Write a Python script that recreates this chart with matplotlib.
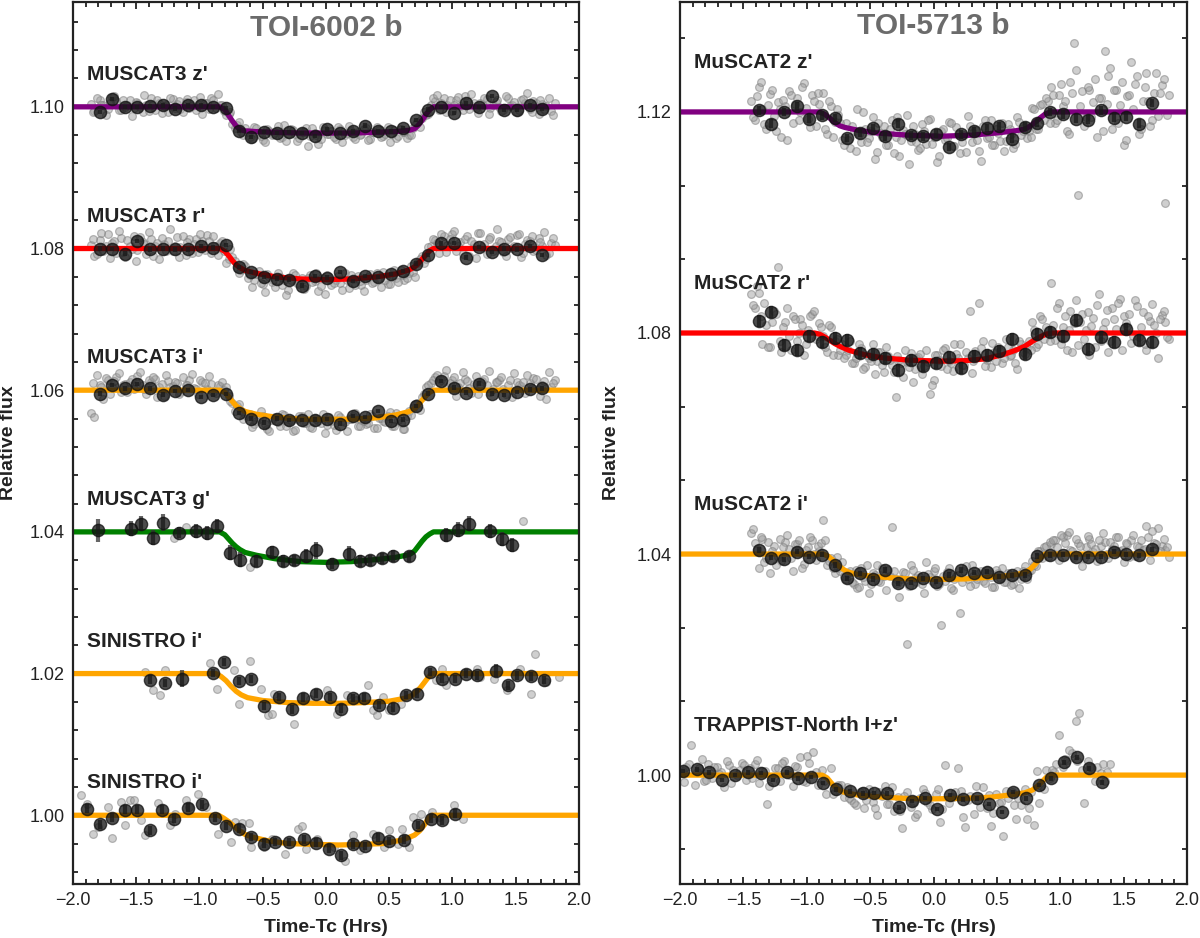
import numpy as np
import matplotlib
matplotlib.use("Agg")
import matplotlib.pyplot as plt
from matplotlib.ticker import MultipleLocator, AutoMinorLocator, FormatStrFormatter

plt.rcParams['font.family'] = ['Liberation Sans', 'DejaVu Sans']

# ======================= DATA =======================
# ---------- Left panel: TOI-6002 b ----------
left_title = "TOI-6002 b"
left_labels = ["MUSCAT3 z'", "MUSCAT3 r'", "MUSCAT3 i'", "MUSCAT3 g'", "SINISTRO i'", "SINISTRO i'"]
left_base = [1.10, 1.08, 1.06, 1.04, 1.02, 1.00]

# MuSCAT3 unbinned times (shared by z', r', i') [hours], two interleaved groups
m3_gray_t = [-1.86, -1.83, -1.79, -1.76, -1.72, -1.69, -1.66, -1.62, -1.59, -1.55,
             -1.52, -1.49, -1.45, -1.42, -1.38, -1.35, -1.32, -1.28, -1.25, -1.21,
             -1.18, -1.15, -1.11, -1.08, -1.04, -1.01, -0.98, -0.94, -0.91, -0.87,
             -0.84, -0.81, -0.77, -0.74, -0.70, -0.67, -0.64,
             -0.60, -0.57, -0.53, -0.50, -0.47, -0.43, -0.40, -0.36, -0.33, -0.30,
             -0.26, -0.23, -0.19, -0.16, -0.13, -0.09, -0.06, -0.02, 0.01, 0.04,
             0.08, 0.11, 0.15, 0.18, 0.21, 0.25, 0.28, 0.32, 0.35, 0.38,
             0.42, 0.45, 0.49, 0.52, 0.55, 0.59, 0.62, 0.66,
             0.69, 0.72, 0.76, 0.79, 0.83,
             0.86, 0.89, 0.93, 0.96, 1.00, 1.03, 1.06, 1.10, 1.13, 1.17,
             1.20, 1.23, 1.27, 1.30, 1.34, 1.37, 1.40, 1.44, 1.47, 1.51,
             1.54, 1.57, 1.61, 1.64, 1.68, 1.71, 1.74, 1.78, 1.81]
m3_gray_t2 = [-1.845, -1.81, -1.775, -1.74, -1.705, -1.675, -1.64, -1.605, -1.57, -1.535,
              -1.505, -1.47, -1.435, -1.40, -1.365, -1.335, -1.30, -1.265, -1.23, -1.195,
              -1.165, -1.13, -1.095, -1.06, -1.025, -0.995, -0.96, -0.925, -0.89, -0.855,
              -0.825, -0.79, -0.755, -0.72, -0.685, -0.655,
              -0.62, -0.585, -0.55, -0.515, -0.485, -0.45, -0.415, -0.38, -0.345, -0.315,
              -0.28, -0.245, -0.21, -0.175, -0.145, -0.11, -0.075, -0.04, -0.005, 0.025,
              0.06, 0.095, 0.13, 0.165, 0.195, 0.23, 0.265, 0.30, 0.335, 0.365,
              0.40, 0.435, 0.47, 0.505, 0.535, 0.57, 0.605, 0.64,
              0.675, 0.705, 0.74, 0.775, 0.81, 0.845,
              0.875, 0.91, 0.945, 0.98, 1.015, 1.045, 1.08, 1.115, 1.15, 1.185,
              1.215, 1.25, 1.285, 1.32, 1.355, 1.385, 1.42, 1.455, 1.49, 1.525,
              1.555, 1.59, 1.625, 1.66, 1.695, 1.725, 1.76, 1.795]
# unbinned flux deviations from each baseline, in units of 1e-4
m3z_gray_d = [4, -6, 10, 2, -3, 14, 8, -5, 0, 9, -2, 6, -8, 3, 12, -4, 5, 1, -7, 11,
              4, -3, 7, -1, 9, 2, -10, 5, 13, -2, 3,
              -6, -10, -24, -25, -36, -30,
              -42, -28, -38, -47, -31, -40, -35, -44, -26, -39, -33, -48, -36, -30, -41,
              -37, -52, -29, -38, -34, -45, -32, -40, -27, -43, -36, -39, -30, -46, -35,
              -33, -41, -28, -38, -44, -31, -36, -40,
              -30, -22, -16, -12, 2,
              8, -4, 12, 3, -6, 10, 1, 15, -3, 6, -9, 4, 11, -2, 7, 0, -5, 13, 2, -7,
              9, 5, -3, 8, -10, 4, 1, -6, 6]
m3z_gray_d2 = [-8, 12, 3, -11, 6, 15, -4, 9, 2, -13, 7, 0, 16, -6, 4, 10, -9, 3, 13, -2,
               8, -7, 11, 1, -5, 14, 6, -3, 9, 18,
               2, -12, -8, -30, -22, -40,
               -36, -45, -30, -41, -50, -34, -38, -27, -43, -48, -32, -39, -44, -35, -55,
               -30, -40, -46, -33, -38, -42, -29, -49, -37, -34, -45, -40, -31, -47, -36,
               -28, -43, -39, -50, -33, -41, -36, -44,
               -40, -25, -28, -8, -10, 12,
               16, 5, -8, 10, 2, 14, -5, 8, 18, -2, 6, 12, -10, 3, 9, -6, 15, 1, 7, -4,
               11, 20, -8, 5, 10, -3, 13, -12]
m3r_gray_d = [5, -10, 12, -3, 20, 8, -6, 15, -12, 3, 18, -2, 9, -8, 14, 4, -15, 7, 11, -4,
              16, 2, -9, 13, 6, -5, 10, 19, -7, 3, 8,
              -4, -15, -12, -28, -30, -25,
              -38, -45, -32, -50, -36, -47, -55, -40, -44, -58, -35, -49, -42, -53, -38,
              -46, -60, -41, -37, -52, -44, -48, -34, -56, -43, -39, -51, -45, -36, -47,
              -42, -33, -50, -38, -41, -30, -44, -35,
              -33, -20, -10, -15, 4,
              12, -6, 18, 5, 20, -3, 9, 14, -10, 7, 22, 2, -8, 16, 4, 11, -5, 13, 1, 19,
              -12, 6, 10, -4, 15, 3, -9, 8, 5]
m3r_gray_d2 = [14, -8, 22, 3, -14, 10, 25, -5, 12, 0, -18, 16, 6, 24, -10, 8, 15, -3, 28, 4,
               -12, 18, 9, -6, 13, 21, -2, 11, 17, -9,
               10, -20, 0, -18, -35, -22,
               -42, -55, -36, -48, -62, -40, -45, -35, -52, -66, -44, -38, -50, -57, -41,
               -47, -34, -53, -64, -43, -49, -39, -58, -45, -37, -52, -46, -60, -40, -48,
               -35, -55, -44, -50, -31, -47, -38, -42,
               -25, -40, -15, -20, 2, 14,
               8, 20, -5, 14, 25, 3, -8, 17, 10, -14, 22, 6, 13, -3, 27, 9, -11, 16, 4, 21,
               -7, 12, 18, -2, 9, 24, -6, 15]
m3i_gray_d = [-32, -38, 8, -12, 14, 5, 18, -3, 9, 12, 2, 20, 7, -5, 11, 16, 4, -8, 13, 6,
              10, -2, 8, 15, 3, -6, 12, 1, 9, -4, 6,
              0, -8, -18, -22, -30, -35,
              -33, -48, -40, -36, -55, -42, -38, -50, -35, -45, -58, -41, -37, -47, -52,
              -39, -44, -34, -49, -43, -56, -38, -45, -40, -36, -51, -42, -48, -33, -54,
              -39, -44, -37, -50, -32, -46, -55, -30,
              -25, -18, -10, 4, 10,
              18, 12, 20, 5, 14, -8, 10, 16, 3, 9, -6, 13, 7, -3, 11, 15, 2, 8, -10, 12,
              6, -4, 10, 17, 1, 8, -12, 5, 14]
m3i_gray_d2 = [10, 22, 5, 17, -6, 13, 24, 8, -3, 16, 11, 25, 2, 14, 19, -9, 9, 21, 4, 12,
               -5, 18, 7, 23, 1, 15, 10, 20, -2, 8,
               12, 4, -15, -30, -20, -40,
               -36, -52, -44, -30, -48, -58, -39, -45, -34, -50, -42, -56, -37, -47, -33,
               -53, -41, -46, -60, -38, -49, -35, -44, -57, -40, -32, -51, -43, -47, -36,
               -54, -39, -45, -31, -50, -42, -55, -37,
               -35, -20, -28, -5, 8, 15,
               22, 15, 28, 10, 18, 5, 25, 13, -4, 20, 9, 16, 27, 2, 12, 19, -6, 14, 24, 7,
               11, 21, 3, 16, -8, 13, 26, 10]

# MuSCAT3 binned points (shared bin times for z', r', i')
m3_bin_t = [-1.79, -1.69, -1.59, -1.49, -1.39, -1.29, -1.19, -1.09, -0.99, -0.89,
            -0.79, -0.69, -0.59, -0.49, -0.39, -0.29, -0.19, -0.09, 0.01, 0.11,
            0.21, 0.31, 0.41, 0.51, 0.61, 0.71, 0.81, 0.91, 1.01, 1.11,
            1.21, 1.31, 1.41, 1.51, 1.61, 1.71]
m3z_bin_f = [1.09925, 1.10113, 1.1000, 1.1000, 1.1001, 1.1002, 1.09976, 1.1002, 1.1002, 1.1000,
             1.0998, 1.09656, 1.09576, 1.09642, 1.09633, 1.09642, 1.09633, 1.09586, 1.0968, 1.09633,
             1.09652, 1.09736, 1.09652, 1.09652, 1.09703, 1.09812, 1.09962, 1.1000, 1.09915, 1.10047,
             1.1000, 1.1015, 1.09953, 1.09953, 1.1002, 1.09972]
m3r_bin_f = [1.0800, 1.0799, 1.07929, 1.08108, 1.07986, 1.0800, 1.07986, 1.07986, 1.08033, 1.08014,
             1.08047, 1.07741, 1.0767, 1.0760, 1.07576, 1.07562, 1.07477, 1.07609, 1.0759, 1.0767,
             1.07539, 1.07609, 1.0760, 1.07637, 1.07685, 1.07788, 1.07906, 1.08071, 1.0808, 1.07873,
             1.08024, 1.07953, 1.0800, 1.07986, 1.08033, 1.07906]
m3i_bin_f = [1.05953, 1.06071, 1.06024, 1.06085, 1.06024, 1.05939, 1.05991, 1.0600, 1.05906, 1.05929,
             1.05944, 1.0568, 1.0560, 1.05543, 1.0560, 1.05576, 1.05576, 1.05586, 1.0559, 1.05529,
             1.05637, 1.05623, 1.05708, 1.05567, 1.05586, 1.05774, 1.05953, 1.06127, 1.06038, 1.05967,
             1.06094, 1.05953, 1.05929, 1.05976, 1.0601, 1.06024]
m3_bin_e = 0.0003

# MuSCAT3 g'
m3g_gray_t = [-1.20, -1.11, -0.60, 1.56]
m3g_gray_f = [1.0392, 1.0407, 1.0351, 1.0415]
m3g_bin_t = [-1.80, -1.54, -1.46, -1.37, -1.29, -1.16, -1.03, -0.94, -0.86, -0.76,
             -0.68, -0.55, -0.43, -0.34, -0.25, -0.16, -0.08, 0.05, 0.18, 0.27,
             0.35, 0.44, 0.53, 0.66, 0.95, 1.04, 1.13, 1.30, 1.39, 1.47]
m3g_bin_f = [1.04024, 1.04047, 1.04118, 1.0392, 1.04127, 1.0399, 1.04014, 1.0399, 1.04085, 1.03708,
             1.03609, 1.0359, 1.03718, 1.0359, 1.0360, 1.03661, 1.03741, 1.03553, 1.03694, 1.0359,
             1.0360, 1.03628, 1.03661, 1.03656, 1.03953, 1.04033, 1.04118, 1.0401, 1.03901, 1.03812]
m3g_bin_e = [0.0016, 0.0010, 0.0010, 0.0010, 0.0012, 0.0008, 0.0010, 0.0010, 0.0010, 0.0010,
             0.0010, 0.0008, 0.0008, 0.0008, 0.0008, 0.0010, 0.0012, 0.0008, 0.0010, 0.0008,
             0.0008, 0.0008, 0.0008, 0.0008, 0.0010, 0.0010, 0.0010, 0.0010, 0.0010, 0.0010]

# SINISTRO #1 (upper)
s1_gray_t = [-1.43, -1.37, -1.31, -1.27, -0.92, -0.86, -0.73, -0.69, -0.60, -0.51,
             -0.46, -0.43, -0.41, -0.25, -0.13, 0.01, 0.09, 0.17, 0.24, 0.33,
             0.37, 0.40, 0.45, 0.50, 0.59, 0.87, 0.92, 0.95, 1.19, 1.22,
             1.33, 1.43, 1.53, 1.62, 1.65, 1.74, 1.84]
s1_gray_f = [1.02024, 1.01765, 1.01694, 1.02056, 1.0215, 1.01788, 1.02047, 1.01576, 1.02179, 1.01788,
             1.01411, 1.01435, 1.01718, 1.01284, 1.01647, 1.01765, 1.01435, 1.01694, 1.01623, 1.01835,
             1.01482, 1.01411, 1.0167, 1.01482, 1.01576, 1.01906, 1.02071, 1.01835, 1.02071, 1.01953,
             1.01929, 1.01765, 1.02071, 1.01718, 1.02282, 1.01882, 1.01953]
s1_bin_t = [-1.39, -1.27, -1.14, -0.89, -0.81, -0.69, -0.59, -0.49, -0.37, -0.27,
            -0.18, -0.08, 0.03, 0.12, 0.21, 0.30, 0.42, 0.53, 0.63, 0.72,
            0.82, 0.92, 1.02, 1.11, 1.19, 1.34, 1.44, 1.51, 1.62, 1.72]
s1_bin_f = [1.01915, 1.01868, 1.01929, 1.02009, 1.02165, 1.01896, 1.0192, 1.01539, 1.0167, 1.01496,
            1.01661, 1.01718, 1.0167, 1.01506, 1.01656, 1.01661, 1.01553, 1.0152, 1.01694, 1.01718,
            1.02024, 1.01929, 1.0192, 1.0200, 1.01976, 1.02038, 1.01835, 1.01976, 1.01962, 1.01906]
s1_bin_e = [0.0006, 0.0006, 0.0012, 0.0006, 0.0006, 0.0006, 0.0006, 0.0006, 0.0006, 0.0006,
            0.0006, 0.0006, 0.0006, 0.0006, 0.0006, 0.0006, 0.0006, 0.0006, 0.0006, 0.0006,
            0.0006, 0.0006, 0.0006, 0.0006, 0.0006, 0.0009, 0.0006, 0.0006, 0.0006, 0.0006]

# SINISTRO #2 (lower)
s2_gray_t = [-1.94, -1.89, -1.84, -1.80, -1.72, -1.69, -1.62, -1.59, -1.55, -1.52,
             -1.46, -1.43, -1.33, -1.23, -1.19, -1.11, -1.08, -1.01, -0.95, -0.85,
             -0.75, -0.72, -0.66, -0.61, -0.59, -0.49, -0.43, -0.32, -0.22, -0.19,
             -0.16, -0.07, 0.06, 0.15, 0.21, 0.27, 0.37, 0.46, 0.50, 0.57,
             0.60, 0.66, 0.69, 0.75, 0.84, 0.89, 1.01, 1.08]
s2_gray_f = [1.00282, 1.00165, 0.99741, 0.99835, 1.00118, 0.99685, 1.00188, 0.99859, 1.00212, 1.00212,
             0.99929, 0.99718, 1.00174, 0.99859, 1.00024, 1.00212, 1.00118, 1.00297, 1.00118, 0.99732,
             0.99623, 0.99906, 0.99892, 0.99892, 0.99553, 0.99553, 0.9967, 0.99459, 0.99812, 0.99845,
             0.99529, 0.9967, 0.99553, 0.99355, 0.99718, 0.99506, 0.99741, 0.99553, 0.99788, 0.9960,
             0.99812, 0.99553, 0.99976, 1.00024, 1.00047, 0.99976, 1.00141, 0.99953]
s2_bin_t = [-1.89, -1.79, -1.69, -1.59, -1.49, -1.39, -1.30, -1.20, -1.09, -0.98,
            -0.88, -0.79, -0.69, -0.59, -0.49, -0.40, -0.29, -0.17, -0.08, 0.02,
            0.12, 0.21, 0.31, 0.41, 0.50, 0.62, 0.73, 0.83, 0.92, 1.02]
s2_bin_f = [1.00094, 0.99873, 0.99967, 1.0008, 1.0008, 0.99788, 1.0008, 0.99953, 1.00108, 1.00155,
            0.99962, 0.99845, 0.99812, 0.99694, 0.9960, 0.99623, 0.99623, 0.99661, 0.99614, 0.99529,
            0.99435, 0.9959, 0.99567, 0.99685, 0.99637, 0.99656, 0.99859, 0.99953, 0.99929, 1.00024]
s2_bin_e = 0.0006

# Left-panel transit models (vertices)
m3_mod_t = [-2.0, -0.84, -0.80, -0.77, -0.74, -0.71, -0.68, -0.64, -0.55, -0.40, -0.20, 0.00,
            0.20, 0.40, 0.55, 0.66, 0.70, 0.73, 0.76, 0.79, 0.82, 0.85, 2.0]
m3z_mod_f = [1.1000, 1.1000, 1.0996, 1.0988, 1.0980, 1.0973, 1.0968, 1.0966, 1.0965, 1.0964, 1.0963, 1.0963,
             1.0963, 1.0964, 1.0965, 1.0967, 1.0969, 1.0974, 1.0981, 1.0989, 1.0996, 1.1000, 1.1000]
m3r_mod_f = [1.0800, 1.0800, 1.0796, 1.0790, 1.0783, 1.0777, 1.0773, 1.0769, 1.0765, 1.0760, 1.0757, 1.0756,
             1.0757, 1.0760, 1.0764, 1.0770, 1.0774, 1.0779, 1.0785, 1.0791, 1.0797, 1.0800, 1.0800]
m3i_mod_f = [1.0600, 1.0600, 1.0597, 1.0591, 1.0584, 1.0578, 1.0574, 1.0570, 1.0566, 1.0562, 1.0559, 1.0559,
             1.0559, 1.0561, 1.0565, 1.0570, 1.0574, 1.0579, 1.0586, 1.0592, 1.0597, 1.0600, 1.0600]
m3g_mod_f = [1.0400, 1.0400, 1.0396, 1.0390, 1.0384, 1.0379, 1.0375, 1.0371, 1.0367, 1.0362, 1.0358, 1.0357,
             1.0358, 1.0361, 1.0364, 1.0368, 1.0373, 1.0380, 1.0387, 1.0393, 1.0397, 1.0400, 1.0400]
s1_mod_t = [-2.0, -0.87, -0.83, -0.79, -0.75, -0.71, -0.67, -0.62, -0.50, -0.30, -0.10, 0.10,
            0.30, 0.50, 0.62, 0.68, 0.72, 0.75, 0.78, 0.81, 0.84, 2.0]
s1_mod_f = [1.0200, 1.0200, 1.0196, 1.0190, 1.0182, 1.0175, 1.0170, 1.0166, 1.0162, 1.0159, 1.0158, 1.0158,
            1.0159, 1.0161, 1.0165, 1.0169, 1.0175, 1.0181, 1.0188, 1.0195, 1.0200, 1.0200]
s2_mod_t = [-2.0, -0.85, -0.81, -0.77, -0.73, -0.69, -0.64, -0.58, -0.46, -0.30, -0.10, 0.10,
            0.30, 0.45, 0.60, 0.66, 0.70, 0.74, 0.78, 0.81, 0.84, 2.0]
s2_mod_f = [1.0000, 1.0000, 0.9996, 0.9991, 0.9985, 0.9979, 0.9973, 0.9969, 0.9964, 0.9960, 0.9959, 0.9958,
            0.9959, 0.9960, 0.9965, 0.9969, 0.9972, 0.9978, 0.9987, 0.9996, 1.0000, 1.0000]

# ---------- Right panel: TOI-5713 b ----------
right_title = "TOI-5713 b"
right_labels = ["MuSCAT2 z'", "MuSCAT2 r'", "MuSCAT2 i'", "TRAPPIST-North I+z'"]
right_base = [1.12, 1.08, 1.04, 1.00]

m2_gray_t = [-1.44, -1.41, -1.38, -1.35, -1.32, -1.29, -1.26, -1.23, -1.20, -1.17,
             -1.14, -1.11, -1.08, -1.05, -1.02, -0.99, -0.96, -0.93, -0.90,
             -0.87, -0.84, -0.81, -0.78, -0.75, -0.72,
             -0.69, -0.66, -0.63, -0.60, -0.57, -0.54, -0.51, -0.48, -0.45, -0.42,
             -0.39, -0.36, -0.33, -0.30, -0.27, -0.24, -0.21, -0.18, -0.15, -0.12,
             -0.09, -0.06, -0.03, 0.00, 0.03, 0.06, 0.09, 0.12, 0.15, 0.18,
             0.21, 0.24, 0.27, 0.30, 0.33, 0.36, 0.39, 0.42, 0.45, 0.48,
             0.51, 0.54, 0.57, 0.60, 0.63, 0.66, 0.69, 0.72,
             0.75, 0.78, 0.81, 0.84, 0.87, 0.90,
             0.93, 0.96, 0.99, 1.02, 1.05, 1.08, 1.11, 1.14, 1.17, 1.20,
             1.23, 1.26, 1.29, 1.32, 1.35, 1.38, 1.41, 1.44, 1.47, 1.50,
             1.53, 1.56, 1.59, 1.62, 1.65, 1.68, 1.71, 1.74, 1.77, 1.80,
             1.83, 1.86]
m2_gray_t2 = [-1.425, -1.395, -1.365, -1.335, -1.305, -1.275, -1.245, -1.215, -1.185, -1.155,
              -1.125, -1.095, -1.065, -1.035, -1.005, -0.975, -0.945, -0.915, -0.885,
              -0.855, -0.825, -0.795, -0.765, -0.735, -0.705,
              -0.675, -0.645, -0.615, -0.585, -0.555, -0.525, -0.495, -0.465, -0.435, -0.405,
              -0.375, -0.345, -0.315, -0.285, -0.255, -0.225, -0.195, -0.165, -0.135, -0.105,
              -0.075, -0.045, -0.015, 0.015, 0.045, 0.075, 0.105, 0.135, 0.165, 0.195,
              0.225, 0.255, 0.285, 0.315, 0.345, 0.375, 0.405, 0.435, 0.465, 0.495,
              0.525, 0.555, 0.585, 0.615, 0.645, 0.675, 0.705, 0.735,
              0.765, 0.795, 0.825, 0.855, 0.885, 0.915,
              0.945, 0.975, 1.005, 1.035, 1.065, 1.095, 1.125, 1.155, 1.185, 1.215,
              1.245, 1.275, 1.305, 1.335, 1.365, 1.395, 1.425, 1.455, 1.485, 1.515,
              1.545, 1.575, 1.605, 1.635, 1.665, 1.695, 1.725, 1.755, 1.785, 1.815,
              1.845]
m2z_gray_d = [20, -15, 45, 5, -30, 32, -8, 18, -45, 10, 38, -20, 25, 0, 52, -12, 30, -25, 15,
              35, -40, 10, -18, -5, -50,
              -20, -65, -35, 5, -55, -30, -48, -10, -72, -38, -25, -60, -15, -45, -80,
              -32, -5, -52, -40, -68, -22, -58, -12, -45, -90, -35, -50, -18, -62, -28,
              -75, -42, -8, -55, -33, -70, -25, -48, -15, -60, -38, -20, -52, -30, -66,
              -10, -42, -28,
              -35, 8, -30, 12, -15, 20,
              45, -20, 30, 10, -35, 55, 125, -150, 38, -10, 40, 18, -45, 25, 110, 65,
              -30, 40, 12, -60, 28, 90, 50, -40, 20, 70, -25, 35, -8, 48, -165, 30]
m2z_gray_d2 = [-10, 28, 55, -22, 12, 40, -35, 5, 22, -50, 30, 15, -15, 45, 8, -28, 20, 35, -5,
               -30, 20, -45, 5, -20, -60,
               -50, -25, -70, -40, 0, -55, -35, -85, -20, -45, -60, -30, -75, -10, -50,
               -40, -95, -25, -55, -65, -35, -15, -58, -45, -80, -30, -48, -20, -62, -40,
               -55, -72, -25, -38, -50, -88, -15, -45, -60, -30, -52, -70, -22, -40, -58,
               -18, -35, -48,
               -45, 5, -30, 15, 25, -20,
               30, -15, 50, 20, -40, 35, 75, 10, -25, 45, -10, 60, 25, -35, 15, 80,
               40, -20, 55, -50, 30, 5, 65, -30, 45, 20, -15, 70, 35, 60, -5]
m2r_gray_d = [70, 45, 72, -20, 15, -25, 40, 120, -35, 20, -5, 30, -15, 25, -40, 5, 35, -10, 18,
              -5, -35, 10, -15, -40, -20,
              -40, -15, -55, -38, -28, -62, -45, -20, -50, -35, -70, -42, -58, -115, -48,
              -80, -52, -36, -65, -44, -75, -30, -110, -85, -40, -60, -28, -50, -68, -38,
              -20, -58, -45, -72, -32, 55, -15, -48, -62, -35, -25, -55, -10, -42, -30,
              -65, -20, -38,
              -15, 20, -25, 30, -10, 5,
              90, -12, 55, 10, -30, 40, 18, -22, 35, 5, -40, 28, 50, -15, 20, -35,
              45, 8, 62, 30, 12, -18, 60, -8, 38, -30, 22, 15, -45, 32, 20, -10]
m2r_gray_d2 = [50, 85, 30, 55, -25, 20, 35, -15, 10, 45, -30, 25, 0, 15, -20, 30, 40, -5, 10,
               -25, 15, -40, -10, -30, -45,
               -30, -55, -45, -20, -65, -40, -50, -75, -35, -58, -25, -48, -70, -42, -55,
               -30, -62, -88, -45, -38, -60, -52, -95, -40, -48, -30, -66, -55, -20, -45,
               -58, -35, 40, -50, -42, -28, -60, -38, -18, -50, -32, -45, -25, -40, -55,
               -15, -35, -28,
               -30, 5, -20, 25, 10, -15,
               15, 45, -20, 30, 5, -35, 60, 20, -10, 38, 12, -25, 70, 8, 42, -15,
               25, 55, -30, 18, 35, -5, 48, 10, -20, 30, 52, 0, 25, 40, -8]
m2i_gray_d = [38, 20, -25, 28, -8, -35, 15, -5, -12, 22, 10, -30, 18, 3, -18, 12, 25, -10, 5,
              62, -20, -8, -35, -25, -15,
              -45, -30, -55, -62, -25, -48, -70, -35, -20, -50, -40, -28, 49, -45, -78,
              -32, -163, -20, -44, -38, -55, -15, -42, -30, -58, -129, -48, -25, -65, -40,
              -107, -30, -45, -20, -55, -35, -48, -28, -42, -60, -35, -25, -50, -38, -55,
              -30, -45, -22,
              -30, -12, -22, 5, 12, -6,
              18, 25, -10, 30, 35, 8, -5, 20, -22, 12, 28, 3, -12, 15, 22, -8,
              10, 30, 5, -15, 18, 25, -3, 12, 8, 50, -10, 20, 48, 15, 8, -5]
m2i_gray_d2 = [45, 10, 30, -15, 22, 5, -20, 28, 12, 35, -8, 18, 25, -25, 8, 30, 0, 15, 20,
               25, -12, -25, -5, -30, -40,
               -35, -50, -28, -60, -42, -20, -55, -38, -48, -25, -65, -40, -30, -52, -45,
               -35, -58, -28, -50, -42, -70, -36, -48, -25, -55, -40, -32, -62, -45, -38,
               -50, -22, -58, -40, -46, -30, -52, -36, -60, -28, -44, -50, -34, -56, -38,
               -62, -30, -45,
               -28, -20, 5, -8, 15, 22,
               25, 12, 35, 20, 40, 5, 28, 15, -8, 32, 18, 10, 25, 38, 0, 22,
               14, 30, 8, 20, -5, 35, 15, 25, 10, 30, 42, 18, 5, 28, 12]

m2_bin_t = [-1.38, -1.28, -1.18, -1.08, -0.98, -0.88, -0.78, -0.68, -0.58, -0.48,
            -0.38, -0.28, -0.18, -0.08, 0.02, 0.12, 0.22, 0.32, 0.42, 0.52,
            0.62, 0.72, 0.82, 0.92, 1.02, 1.12, 1.22, 1.32, 1.42, 1.52,
            1.62, 1.72]
m2z_bin_f = [1.1203, 1.11789, 1.12, 1.12103, 1.11879, 1.1194, 1.11891, 1.11529, 1.1162, 1.1171,
             1.1156, 1.11789, 1.11578, 1.1156, 1.11608, 1.11367, 1.11596, 1.1165, 1.1171, 1.11747,
             1.11517, 1.11729, 1.11801, 1.12, 1.11958, 1.11879, 1.11861, 1.1203, 1.11897, 1.1191,
             1.11789, 1.12163]
m2r_bin_f = [1.08211, 1.0838, 1.07777, 1.07698, 1.0794, 1.07837, 1.07916, 1.07867, 1.07638, 1.07626,
             1.07554, 1.07336, 1.07505, 1.07403, 1.07457, 1.07566, 1.07373, 1.07578, 1.07596, 1.07674,
             1.07897, 1.07614, 1.07988, 1.08018, 1.0794, 1.08241, 1.07716, 1.07928, 1.07837, 1.08078,
             1.07867, 1.07837]
m2i_bin_f = [1.04072, 1.03934, 1.03903, 1.04042, 1.03952, 1.03988, 1.03801, 1.0356, 1.0365, 1.03548,
             1.0371, 1.03469, 1.03481, 1.0356, 1.035, 1.0362, 1.0371, 1.03662, 1.0368, 1.0359,
             1.03614, 1.0362, 1.03964, 1.03982, 1.03988, 1.0394, 1.03952, 1.03952, 1.04042, 1.03994,
             1.03976, 1.04084]
m2z_bin_e = 0.0008
m2r_bin_e = 0.0011
m2i_bin_e = 0.0005

tn_gray_t = [-1.98, -1.95, -1.91, -1.88, -1.85, -1.81, -1.78, -1.75, -1.71, -1.68,
             -1.65, -1.61, -1.58, -1.55, -1.51, -1.48, -1.45, -1.41, -1.38, -1.35,
             -1.31, -1.28, -1.25, -1.21, -1.18, -1.15, -1.11, -1.08, -1.05, -1.01,
             -0.98, -0.95, -0.91, -0.88,
             -0.85, -0.81, -0.78, -0.75, -0.71,
             -0.68, -0.65, -0.61, -0.58, -0.55, -0.51, -0.48, -0.45, -0.41, -0.38,
             -0.35, -0.31, -0.28, -0.25, -0.21, -0.18, -0.15, -0.11, -0.08, -0.05,
             -0.01, 0.02, 0.05, 0.09, 0.12, 0.15, 0.19, 0.22, 0.25, 0.29,
             0.32, 0.35, 0.39, 0.42, 0.45, 0.49, 0.52, 0.55, 0.59, 0.62,
             0.65, 0.69, 0.72, 0.75,
             0.79, 0.82, 0.85, 0.89, 0.92,
             0.95, 0.99, 1.02, 1.05, 1.09, 1.12, 1.15, 1.19, 1.22, 1.25,
             1.29, 1.32, 1.35, 1.39]
tn_gray_d = [8, 15, 54, -18, 12, -10, 20, -5, 15, 5, -22, 18, 10, 0, 22, -8, 12, 20, -15, 8,
             -52, -3, 12, -10, 25, 5, -20, 15, 32, -12, 22, 42, -18, 10,
             -35, 12, -28, -18, -40,
             -22, -45, -55, -30, -60, -25, -48, -72, -38, -20, -52, -65, -40, -95, -30,
             -58, -75, -42, -25, -48, -62, -35, -85, 18, -50, -40, 12, -28, -94, -38,
             -70, -45, -22, -60, -92, -35, -50, -110, -42, -30, -80, -55, -25, -60,
             -90, 8, -20, 10, -5,
             5, 72, 15, 28, 40, 98, 112, -50, 25, 12, 15, 3, -10, 20]
tn_gray_t2 = [-1.965, -1.93, -1.865, -1.83, -1.795, -1.73, -1.695, -1.63, -1.595, -1.53,
              -1.495, -1.43, -1.395, -1.33, -1.295, -1.23, -1.195, -1.13, -1.095, -1.03,
              -0.995, -0.93,
              -0.865, -0.795, -0.73, -0.665, -0.63, -0.565, -0.53, -0.465, -0.43, -0.365,
              -0.33, -0.265, -0.23, -0.165, -0.13, -0.065, -0.03, 0.035, 0.07, 0.135,
              0.17, 0.235, 0.27, 0.335, 0.37, 0.435, 0.47, 0.535, 0.57, 0.635,
              0.67, 0.735, 0.77, 0.835, 0.87, 0.935, 0.97, 1.035, 1.07, 1.135,
              1.17, 1.235, 1.27, 1.335, 1.37]
tn_gray_d2 = [-12, 20, 5, 30, -8, 15, 2, 25, -15, 10, 18, -5, 28, 8, -20, 12, 22, 0, 16, -10,
              35, 6,
              -10, -35, -18, -42, -50, -28, -45, -60, -30, -52, -22, -65, -38, -48, -70,
              -33, -55, -25, -62, -40, -30, -75, -45, -20, -58, -36, -68, -48, -28, -55,
              -42, -80, -30, -50, -25, 10, 20, 30, 45, 25, 10, 15, -10, 20, 5]
tn_bin_t = [-1.98, -1.87, -1.77, -1.67, -1.57, -1.46, -1.36, -1.27, -1.16, -1.07,
            -0.97, -0.87, -0.77, -0.66, -0.56, -0.47, -0.37, -0.27, -0.17, -0.07,
            0.03, 0.13, 0.23, 0.34, 0.44, 0.54, 0.63, 0.73, 0.83, 0.93,
            1.03, 1.13, 1.23, 1.33]
tn_bin_f = [1.00078, 1.00103, 1.00048, 0.9991, 1.0, 1.00048, 1.00042, 0.9991, 1.00048, 0.9994,
            0.9997, 0.99861, 0.99741, 0.99704, 0.99668, 0.9968, 0.99668, 0.99415, 0.99535, 0.9959,
            0.99385, 0.99638, 0.9956, 0.99578, 0.99475, 0.9933, 0.99698, 0.99578, 0.99819, 0.9994,
            1.00229, 1.0032, 1.00121, 0.99867]
tn_bin_e = 0.0004

m2z_mod_t = [-2.0, -0.90, -0.86, -0.82, -0.78, -0.74, -0.70, -0.60, -0.45, -0.20, 0.05,
             0.30, 0.50, 0.65, 0.72, 0.76, 0.80, 0.84, 0.88, 0.92, 2.0]
m2z_mod_f = [1.1200, 1.1200, 1.1196, 1.1189, 1.1181, 1.1175, 1.1172, 1.1167, 1.1162, 1.1158, 1.1156,
             1.1158, 1.1162, 1.1166, 1.1169, 1.1174, 1.1181, 1.1189, 1.1196, 1.1200, 1.1200]
m2r_mod_t = [-2.0, -0.94, -0.90, -0.86, -0.82, -0.78, -0.74, -0.67, -0.55, -0.40, -0.20, 0.05,
             0.25, 0.40, 0.55, 0.65, 0.72, 0.78, 0.84, 0.89, 0.94, 2.0]
m2r_mod_f = [1.0800, 1.0800, 1.0798, 1.0793, 1.0787, 1.0781, 1.0776, 1.0769, 1.0761, 1.0755, 1.0751, 1.0749,
             1.0750, 1.0753, 1.0761, 1.0769, 1.0776, 1.0785, 1.0793, 1.0798, 1.0800, 1.0800]
m2i_mod_t = [-2.0, -0.87, -0.83, -0.79, -0.75, -0.71, -0.67, -0.60, -0.45, -0.20, 0.00,
             0.25, 0.45, 0.63, 0.72, 0.76, 0.80, 0.84, 0.88, 2.0]
m2i_mod_f = [1.0400, 1.0400, 1.0396, 1.0388, 1.0379, 1.0372, 1.0367, 1.0363, 1.0359, 1.0355, 1.0354,
             1.0355, 1.0358, 1.0362, 1.0366, 1.0372, 1.0381, 1.0392, 1.0400, 1.0400]
tn_mod_t = [-2.0, -0.88, -0.84, -0.80, -0.76, -0.72, -0.67, -0.60, -0.45, -0.20, 0.00,
            0.25, 0.45, 0.62, 0.72, 0.78, 0.82, 0.86, 0.89, 0.92, 2.0]
tn_mod_f = [1.0000, 1.0000, 0.9995, 0.9984, 0.9975, 0.9970, 0.9967, 0.9964, 0.9961, 0.99575, 0.9957,
            0.9958, 0.9960, 0.99645, 0.9968, 0.9973, 0.9980, 0.9989, 0.9996, 1.0000, 1.0000]

# colours of the model curves per band
col_z = '#800080'
col_r = '#ff0000'
col_i = '#ffa500'
col_g = '#008000'

# ======================= PLOTTING =======================
def dev_to_flux(base, dev):
    return base + np.asarray(dev, dtype=float) * 1e-4


def pair(a, b):
    n = min(len(a), len(b))
    return np.asarray(a[:n], dtype=float), np.asarray(b[:n], dtype=float)


def draw_gray(ax, gt, gf):
    gt, gf = pair(gt, gf)
    ax.plot(gt, gf, 'o', ls='none', ms=5.6, mfc='#a0a0a0', mec='#7a7a7a', mew=0.9,
            alpha=0.5, zorder=1)


def draw_set(ax, bt, bf, be, mt, mf, color):
    mt, mf = pair(mt, mf)
    ax.plot(mt, mf, '-', color=color, lw=3.8, zorder=2, solid_capstyle='butt')
    bt, bf = pair(bt, bf)
    if np.ndim(be) == 0:
        be = np.full(len(bt), be)
    else:
        be = np.asarray(be[:len(bt)], dtype=float)
    ax.errorbar(bt, bf, yerr=be, fmt='o', ls='none', ms=8.8, color='#111111',
                ecolor='#333333', elinewidth=3, capsize=0, alpha=0.75, zorder=3)


fig = plt.figure(figsize=(12, 9.38), dpi=100)
axL = fig.add_axes([0.0608, 0.0576, 0.4217, 0.9403])
axR = fig.add_axes([0.5667, 0.0576, 0.4225, 0.9403])

# Left panel
for tt, dd, b in ((m3_gray_t, m3z_gray_d, 1.10), (m3_gray_t2, m3z_gray_d2, 1.10),
                  (m3_gray_t, m3r_gray_d, 1.08), (m3_gray_t2, m3r_gray_d2, 1.08),
                  (m3_gray_t, m3i_gray_d, 1.06), (m3_gray_t2, m3i_gray_d2, 1.06)):
    draw_gray(axL, tt, dev_to_flux(b, dd))
draw_gray(axL, m3g_gray_t, m3g_gray_f)
draw_gray(axL, s1_gray_t, s1_gray_f)
draw_gray(axL, s2_gray_t, s2_gray_f)

draw_set(axL, m3_bin_t, m3z_bin_f, m3_bin_e, m3_mod_t, m3z_mod_f, col_z)
draw_set(axL, m3_bin_t, m3r_bin_f, m3_bin_e, m3_mod_t, m3r_mod_f, col_r)
draw_set(axL, m3_bin_t, m3i_bin_f, m3_bin_e, m3_mod_t, m3i_mod_f, col_i)
draw_set(axL, m3g_bin_t, m3g_bin_f, m3g_bin_e, m3_mod_t, m3g_mod_f, col_g)
draw_set(axL, s1_bin_t, s1_bin_f, s1_bin_e, s1_mod_t, s1_mod_f, col_i)
draw_set(axL, s2_bin_t, s2_bin_f, s2_bin_e, s2_mod_t, s2_mod_f, col_i)

# Right panel
for tt, dd, b in ((m2_gray_t, m2z_gray_d, 1.12), (m2_gray_t2, m2z_gray_d2, 1.12),
                  (m2_gray_t, m2r_gray_d, 1.08), (m2_gray_t2, m2r_gray_d2, 1.08),
                  (m2_gray_t, m2i_gray_d, 1.04), (m2_gray_t2, m2i_gray_d2, 1.04),
                  (tn_gray_t, tn_gray_d, 1.00), (tn_gray_t2, tn_gray_d2, 1.00)):
    draw_gray(axR, tt, dev_to_flux(b, dd))

draw_set(axR, m2_bin_t, m2z_bin_f, m2z_bin_e, m2z_mod_t, m2z_mod_f, col_z)
draw_set(axR, m2_bin_t, m2r_bin_f, m2r_bin_e, m2r_mod_t, m2r_mod_f, col_r)
draw_set(axR, m2_bin_t, m2i_bin_f, m2i_bin_e, m2i_mod_t, m2i_mod_f, col_i)
draw_set(axR, tn_bin_t, tn_bin_f, tn_bin_e, tn_mod_t, tn_mod_f, col_i)

# labels of each light curve
for lab, b in zip(left_labels, left_base):
    axL.text(-1.89, b + 0.0038, lab, fontsize=15, fontweight='bold', color='#222222',
             ha='left', va='baseline', zorder=5)
for lab, b in zip(right_labels, right_base):
    axR.text(-1.89, b + 0.0080, lab, fontsize=15, fontweight='bold', color='#222222',
             ha='left', va='baseline', zorder=5)

axL.text(0.5, 0.9615, left_title, transform=axL.transAxes, ha='center', va='baseline',
         fontsize=21.5, fontweight='bold', color='#6b6b6b')
axR.text(0.5, 0.9633, right_title, transform=axR.transAxes, ha='center', va='baseline',
         fontsize=21.5, fontweight='bold', color='#6b6b6b')

axL.set_ylim(0.9903, 1.1148)
axR.set_ylim(0.9803, 1.1399)
axL.yaxis.set_major_locator(MultipleLocator(0.02))
axL.yaxis.set_minor_locator(AutoMinorLocator(5))
axR.yaxis.set_major_locator(MultipleLocator(0.04))
axR.yaxis.set_minor_locator(AutoMinorLocator(3))

for ax, lx in ((axL, -0.111), (axR, -0.118)):
    ax.set_xlim(-2.0, 2.0)
    ax.xaxis.set_major_locator(MultipleLocator(0.5))
    ax.xaxis.set_minor_locator(AutoMinorLocator(5))
    ax.yaxis.set_major_formatter(FormatStrFormatter('%.2f'))
    ax.tick_params(which='both', direction='in', top=True, right=True,
                   labelsize=13, pad=6, labelcolor='#222222', color='#222222')
    ax.tick_params(which='major', length=5, width=1.3)
    ax.tick_params(which='minor', length=3.5, width=1.3)
    for sp in ax.spines.values():
        sp.set_linewidth(1.6)
        sp.set_color('#222222')
    ax.set_ylabel('Relative flux', fontsize=14, fontweight='bold', color='#222222')
    ax.set_xlabel('Time-Tc (Hrs)', fontsize=14, fontweight='bold', color='#222222')
    ax.yaxis.set_label_coords(lx, 0.5)
    ax.xaxis.set_label_coords(0.5, -0.0397)

fig.savefig('out.png', dpi=100)
